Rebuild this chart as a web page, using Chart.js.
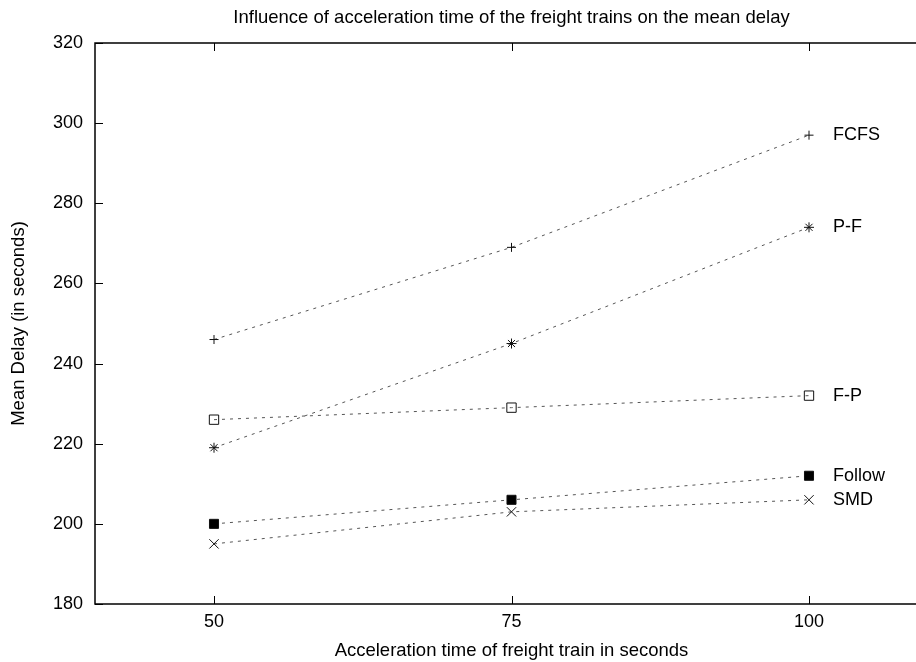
<!DOCTYPE html>
<html>
<head>
<meta charset="utf-8">
<script src="https://cdn.jsdelivr.net/npm/chart.js@4.4.0/dist/chart.umd.min.js"></script>
<style>
  html, body { margin: 0; padding: 0; background: #fff; overflow: hidden; }
  #wrap { width: 916px; height: 662px; overflow: hidden; }
  #chart { display: block; }
</style>
</head>
<body>
<div id="wrap"><canvas id="chart" width="940" height="662"></canvas></div>
<script>
// acceleration time (s) and mean delay (s) per strategy
const accelTimes = [50, 75, 100];
const fcfs   = [246, 269, 297];
const pf     = [219, 245, 274];
const fp     = [226, 229, 232];
const follow = [200, 206, 212];
const smd    = [195, 203, 206];

const xTicks = [50, 75, 100];
const yTicks = [180, 200, 220, 240, 260, 280, 300, 320];

const TITLE = 'Influence of acceleration time of the freight trains on the mean delay';
const FONT = '"Liberation Sans", Arial, Helvetica, sans-serif';

const mkSet = (label, vals, style, radius, fill) => ({
  label,
  data: vals.map((v, i) => ({ x: accelTimes[i], y: v })),
  borderColor: '#555',
  borderWidth: 1,
  borderDash: [3, 5],
  pointStyle: style,
  pointRadius: radius,
  pointBorderColor: '#111',
  pointBorderWidth: 1,
  pointBackgroundColor: fill ? '#000' : 'rgba(0,0,0,0)',
  tension: 0
});

// frame, inward tick marks and the title centred over the plot
const framePlugin = {
  id: 'frame',
  afterDraw(chart) {
    const { ctx, chartArea: a, scales: { x, y } } = chart;
    ctx.save();
    ctx.strokeStyle = '#000';
    ctx.lineWidth = 1.5;
    ctx.strokeRect(a.left, a.top, a.right - a.left, a.bottom - a.top);
    ctx.lineWidth = 1;
    ctx.beginPath();
    yTicks.forEach(v => {
      const py = Math.round(y.getPixelForValue(v)) + 0.5;
      ctx.moveTo(a.left, py); ctx.lineTo(a.left + 8, py);
      ctx.moveTo(a.right, py); ctx.lineTo(a.right - 8, py);
    });
    xTicks.forEach(v => {
      const px = Math.round(x.getPixelForValue(v)) + 0.5;
      ctx.moveTo(px, a.bottom); ctx.lineTo(px, a.bottom - 8);
      ctx.moveTo(px, a.top); ctx.lineTo(px, a.top + 8);
    });
    ctx.stroke();

    ctx.font = '18.5px ' + FONT;
    ctx.fillStyle = '#000';
    ctx.textAlign = 'center';
    ctx.textBaseline = 'alphabetic';
    ctx.fillText(TITLE, (a.left + a.right) / 2, 23);
    ctx.restore();
  }
};

// series names written next to the last point
const endLabels = {
  id: 'endLabels',
  afterDatasetsDraw(chart) {
    const { ctx } = chart;
    ctx.save();
    ctx.font = '18px ' + FONT;
    ctx.fillStyle = '#000';
    ctx.textBaseline = 'middle';
    chart.data.datasets.forEach((ds, i) => {
      const pts = chart.getDatasetMeta(i).data;
      const last = pts[pts.length - 1];
      ctx.fillText(ds.label, last.x + 24, last.y);
    });
    ctx.restore();
  }
};

new Chart(document.getElementById('chart'), {
  type: 'line',
  data: {
    datasets: [
      mkSet('FCFS', fcfs, 'cross', 4.5, false),
      mkSet('P-F', pf, 'star', 5, false),
      mkSet('F-P', fp, 'rect', 6.6, false),
      mkSet('Follow', follow, 'rect', 6.4, true),
      mkSet('SMD', smd, 'crossRot', 6.6, false)
    ]
  },
  options: {
    responsive: false,
    animation: false,
    layout: { padding: { top: 43, right: 12, bottom: 0, left: 0 } },
    plugins: {
      legend: { display: false },
      tooltip: { enabled: false },
      title: { display: false }
    },
    scales: {
      x: {
        type: 'linear',
        min: 40,
        max: 110,
        afterBuildTicks: (s) => { s.ticks = xTicks.map(v => ({ value: v })); },
        afterFit: (s) => { s.height = 58; },
        grid: { display: false, drawTicks: false },
        border: { display: false },
        ticks: { color: '#000', padding: 7, font: { family: FONT, size: 18 } },
        title: {
          display: true,
          text: 'Acceleration time of freight train in seconds',
          color: '#000',
          font: { family: FONT, size: 18.5 },
          padding: { top: 0, bottom: 0 }
        }
      },
      y: {
        min: 180,
        max: 320,
        afterBuildTicks: (s) => { s.ticks = yTicks.map(v => ({ value: v })); },
        afterFit: (s) => { s.width = 95; },
        grid: { display: false, drawTicks: false },
        border: { display: false },
        ticks: { color: '#000', padding: 12, font: { family: FONT, size: 18 } },
        title: {
          display: true,
          text: 'Mean Delay (in seconds)',
          color: '#000',
          font: { family: FONT, size: 18.5 },
          padding: { top: 8, bottom: 0 }
        }
      }
    }
  },
  plugins: [framePlugin, endLabels]
});
</script>
</body>
</html>
